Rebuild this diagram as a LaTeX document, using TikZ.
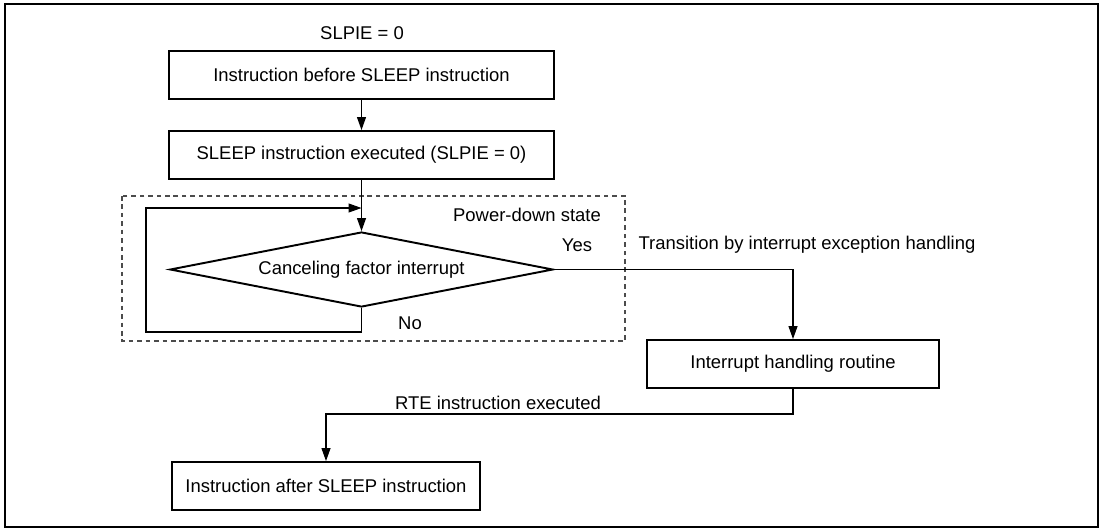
\documentclass[tikz,border=0pt]{standalone}
\usepackage{fontspec}
\setmainfont{Liberation Sans}
\usetikzlibrary{shapes.geometric,arrows.meta}
\begin{document}
\begin{tikzpicture}[x=1cm,y=1cm,
  font=\fontsize{10.5}{12.6}\selectfont,
  stepbox/.style={draw, line width=1.1pt, minimum height=0.96cm, inner sep=0pt},
  decide/.style={draw, diamond, aspect=5.1, line width=1.1pt, minimum width=7.66cm, minimum height=1.5cm, inner sep=0pt},
  flow/.style={line width=0.65pt, -{Triangle[length=2.6mm,width=1.8mm]}}]
\useasboundingbox (0,0) rectangle (22.06,-10.56);
\draw[line width=1.2pt] (0.10,-0.08) rectangle (21.96,-10.54);

\node (slp) at (7.24,-0.66) {SLPIE = 0};

\node[stepbox, minimum width=7.70cm] (a) at (7.23,-1.50)
{Instruction before SLEEP instruction};

\node[stepbox, minimum width=7.70cm] (b) at (7.23,-3.10)
{SLEEP instruction executed (SLPIE = 0)};

\node[decide] (d) at (7.23,-5.39) {Canceling factor interrupt};

\node[stepbox, minimum width=5.84cm] (c) at (15.86,-7.28)
{Interrupt handling routine};

\node[stepbox, minimum width=6.16cm] (e) at (6.52,-9.72)
{Instruction after SLEEP instruction};

\draw[black!70, line width=0.6pt, dash pattern=on 2.6pt off 2.2pt] (2.44,-3.92) rectangle (12.50,-6.82);
\node (pds) at (10.54,-4.30) {Power-down state};

\coordinate (j) at (7.23,-4.16);

\draw[flow] (a) -- (b);
\draw[flow] (b) -- (d);
\draw[flow] (d.south) -- ++(0,-0.48) -| (2.92,-4.16) -- (j);
\draw[flow] (d.east) -| (c.north);
\draw[flow] (c.south) -- ++(0,-0.50) -| (e.north);

\node (yes) at (11.54,-4.90) {Yes};
\node (no) at (8.20,-6.46) {No};
\node (tr) at (16.14,-4.90) {Transition by interrupt exception handling};
\node (rte) at (9.96,-8.06) {RTE instruction executed};
\end{tikzpicture}
\end{document}
